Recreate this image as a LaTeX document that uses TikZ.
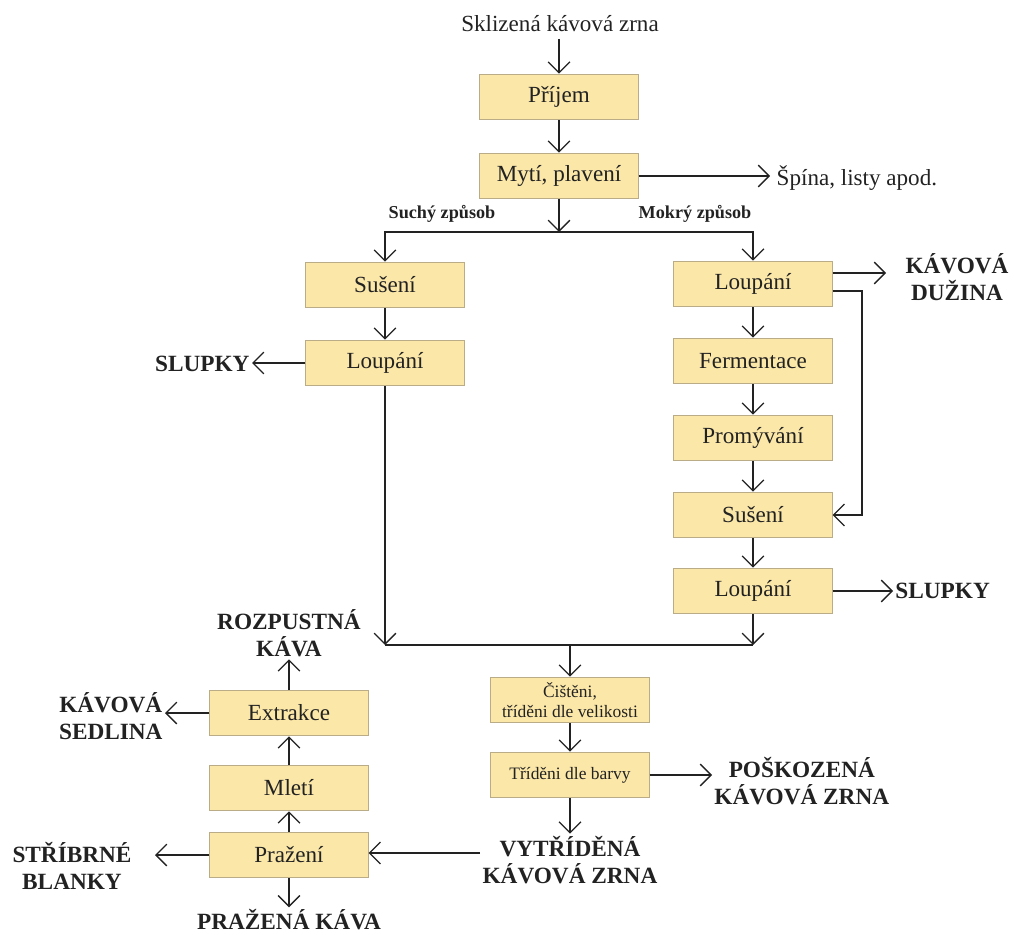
\documentclass[tikz,border=0pt]{standalone}
\usepackage{fontspec}
\setmainfont{Liberation Serif}
\usetikzlibrary{calc, arrows.meta}
\definecolor{boxfill}{RGB}{251,231,168}
\definecolor{boxline}{RGB}{185,172,135}
\definecolor{ink}{RGB}{34,34,34}

\begin{document}
\begin{tikzpicture}[x=.55pt, y=-.55pt, line width=.7pt, color=ink,
    >={Straight Barb[length=6pt, width=12pt]}]
    \tikzstyle{stage} = [rectangle, draw=boxline, fill=boxfill, line width=.6pt,
        minimum width=87pt, minimum height=25pt, inner sep=0pt,
        font=\fontsize{12.7}{15}\selectfont]
    \tikzstyle{sortstage} = [stage, font=\fontsize{9.6}{11}\selectfont, align=center]
    \tikzstyle{product} = [align=center, inner sep=1pt,
        font=\fontsize{12.8}{15}\selectfont\bfseries]
    \tikzstyle{way} = [font=\fontsize{10}{12}\selectfont\bfseries]
    \tikzstyle{flow} = [->]

    \useasboundingbox (0, 0) rectangle (1014, 935);

    % Intake ---------------------------------------------
    \node (harvest) at (560, 24) [font=\fontsize{12.7}{15}\selectfont] {Sklizená kávová zrna};
    \node (intake) at (559, 97) [stage] {Příjem};
    \node (washing) at (559, 176) [stage] {Mytí, plavení};
    \node (dirt) at (770, 178) [anchor=west, font=\fontsize{12.7}{15}\selectfont] {Špína, listy apod.};
    \draw [flow] (harvest.south -| intake) -- (intake);
    \draw [flow] (intake) -- (washing);
    \draw [flow] (washing) -- (dirt.west |- washing);

    \coordinate (split) at (559, 232);
    \node (dry) at (442, 214) [way] {Suchý způsob};
    \node (wet) at (695, 214) [way] {Mokrý způsob};
    % ---------------------------------------------------

    % Dry process ----------------------------------------
    \node (dryA) at (385, 285) [stage] {Sušení};
    \node (dryB) at (385, 363) [stage] {Loupání};
    \node (hullsA) at (252, 364) [product, anchor=east] {SLUPKY};

    % Wet process ----------------------------------------
    \node (wetA) at (753, 284) [stage] {Loupání};
    \node (wetB) at (753, 361) [stage] {Fermentace};
    \node (wetC) at (753, 438) [stage] {Promývání};
    \node (wetD) at (753, 515) [stage] {Sušení};
    \node (wetE) at (753, 591) [stage] {Loupání};
    \node (pulp) at (957, 277) [product] {KÁVOVÁ\\DUŽINA};
    \node (hullsB) at (893, 591) [product, anchor=west] {SLUPKY};
    \coordinate (pulpIn) at (886, 273);
    \coordinate (bypass) at (862, 291);

    \draw [flow] (washing) -- (split);
    \draw [flow] (split) -| (dryA);
    \draw [flow] (split) -| (wetA);
    \draw [flow] (dryA) -- (dryB);
    \draw [flow] (dryB) -- (hullsA.east |- dryB);
    \draw [flow] (wetA) -- (wetB);
    \draw [flow] (wetB) -- (wetC);
    \draw [flow] (wetC) -- (wetD);
    \draw [flow] (wetD) -- (wetE);
    \draw [flow] (wetE) -- (hullsB);
    \draw [flow] (wetA.east |- pulpIn) -- (pulpIn);
    \draw [flow] (wetA.east |- bypass) -- (bypass) |- (wetD);

    % Sorting -------------------------------------------
    \coordinate (merge) at (570, 645);
    \node (clean) at (570, 700) [sortstage] {Čištěni,\\tříděni dle velikosti};
    \node (color) at (570, 775) [sortstage] {Tříděni dle barvy};
    \node (damaged) at (712, 781) [product, anchor=west] {POŠKOZENÁ\\KÁVOVÁ ZRNA};
    \node (sorted) at (570, 860) [product] {VYTŘÍDĚNÁ\\KÁVOVÁ ZRNA};

    \draw [flow] (dryB) -- (dryB |- merge);
    \draw [flow] (wetE) -- (wetE |- merge);
    \draw (dryB |- merge) -- (wetE |- merge);
    \draw [flow] (merge) -- (clean);
    \draw [flow] (clean) -- (color);
    \draw [flow] (color) -- (damaged.west |- color);
    \draw [flow] (color) -- (sorted);

    % Roasting ------------------------------------------
    \node (roast) at (289, 855) [stage] {Pražení};
    \node (grind) at (289, 788) [stage] {Mletí};
    \node (extract) at (289, 713) [stage] {Extrakce};
    \node (instant) at (289, 633) [product] {ROZPUSTNÁ\\KÁVA};
    \node (grounds) at (165, 716) [product, anchor=east] {KÁVOVÁ\\SEDLINA};
    \node (silver) at (72, 866) [product] {STŘÍBRNÉ\\BLANKY};
    \node (roasted) at (289, 920) [product] {PRAŽENÁ KÁVA};
    \coordinate (silverIn) at (155, 855);

    \draw [flow] (sorted.west |- 0, 853) -- (roast.east |- 0, 853);
    \draw [flow] (roast) -- (grind);
    \draw [flow] (grind) -- (extract);
    \draw [flow] (extract) -- (instant);
    \draw [flow] (extract) -- (grounds.east |- extract);
    \draw [flow] (roast) -- (silverIn);
    \draw [flow] (roast) -- (roasted);
\end{tikzpicture}
\end{document}
